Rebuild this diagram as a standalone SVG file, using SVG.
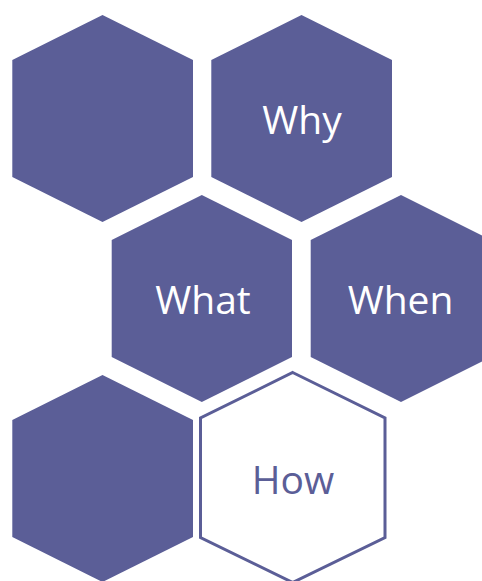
<svg xmlns="http://www.w3.org/2000/svg" width="482" height="581" viewBox="0 0 482 581">
<style>
.hex{fill:#5B5E97;stroke:none}
.hexo{fill:#ffffff;stroke:#5B5E97;stroke-width:3}
.lbl{font-family:"Open Sans","Liberation Sans",sans-serif;font-size:39px;text-anchor:middle;fill:#ffffff}
.lblo{fill:#5B5E97}
</style>
<rect width="482" height="581" fill="#ffffff"/>
<g id="hex1"><polygon class="hex" points="102.5,15 193,60 193,177 102.5,222 12.3,177 12.3,60"/></g>
<g id="hex-why"><polygon class="hex" points="301.5,15 392,60 392,177 301.5,222 211.3,177 211.3,60"/><text class="lbl" x="302" y="134">Why</text></g>
<g id="hex-what"><polygon class="hex" points="201.8,195 292,240 292,357 201.8,402 111.7,357 111.7,240"/><text class="lbl" x="203" y="314">What</text></g>
<g id="hex-when"><polygon class="hex" points="401,195 491,240 491,357 401,402 310.7,357 310.7,240"/><text class="lbl" x="400.5" y="314">When</text></g>
<g id="hex5"><polygon class="hex" points="102.5,375 193,420 193,537 102.5,582 12.3,537 12.3,420"/></g>
<g id="hex-how"><polygon class="hexo" points="292.7,372.5 385,418 385,537.5 292.7,582.5 200.5,537.5 200.5,418"/><text class="lbl lblo" x="293" y="494">How</text></g>
<g id="connectors"></g>
</svg>
